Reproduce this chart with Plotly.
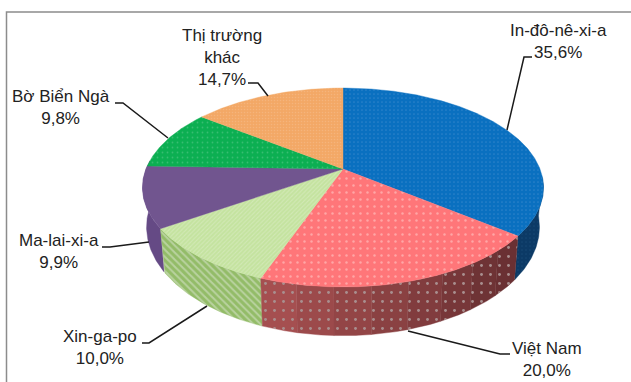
import numpy as np
import plotly.graph_objects as go

labels = ["In-đô-nê-xi-a", "Việt Nam", "Xin-ga-po", "Ma-lai-xi-a", "Bờ Biển Ngà", "Thị trường<br>khác"]
values = [35.6, 20.0, 10.0, 9.9, 9.8, 14.7]
value_text = ["35,6%", "20,0%", "10,0%", "9,9%", "9,8%", "14,7%"]

W, H = 631, 382
CX, APEX_Y, R = 343.0, 169.0, 197.0
A, C = 64.6, -0.186          # perspective of the tilted disc
S_X, S_Y, OFF_Y = 0.98, 1.093, 22.0   # top rim -> bottom rim

def top_rim(theta_deg):
    th = np.radians(theta_deg)
    t = -np.cos(th)
    den = 1 + C * t
    return CX + R * np.sin(th) / den, (A * t + APEX_Y) / den

def low_rim(theta_deg):
    x, y = top_rim(theta_deg)
    return CX + (x - CX) * S_X, y * S_Y + OFF_Y

def arc(a, b):
    return np.linspace(a, b, max(3, int(abs(b - a) * 2)))

fig = go.Figure()

def poly(x, y, bg, fg=None, shape="", size=6, solidity=0.3):
    kw = {}
    if shape:
        kw["fillpattern"] = dict(shape=shape, bgcolor=bg, fgcolor=fg, size=size,
                                 solidity=solidity, fillmode="replace")
    fig.add_trace(go.Scatter(x=list(x) + [x[0]], y=list(y) + [y[0]], mode="lines", fill="toself",
                             fillcolor=bg, line=dict(width=0.4, color=bg), hoverinfo="skip",
                             showlegend=False, **kw))

def side(a, b, bg, fg=None, shape="", size=6, solidity=0.3):
    th = arc(a, b)
    x1, y1 = top_rim(th)
    x2, y2 = low_rim(th[::-1])
    poly(np.r_[x1, x2], np.r_[y1, y2], bg, fg, shape, size, solidity)

cum = np.r_[0, np.cumsum(values)] / sum(values) * 360

# sides: back to front
side(95, cum[1], "#0c3a66", "#154672", ".", 4, 0.15)
side(cum[3], 275, "#654a85")
side(cum[2], cum[3], "#93bc68", "#b9d29f", "\\", 5, 0.4)
# the red side darkens from left to right
red_edges = np.linspace(cum[2], cum[1], 9)
red_bg = ["#a54f50", "#9c4a4b", "#934546", "#8a4142", "#813c3e", "#773739", "#6e3335", "#6a3033"]
for i in range(8):
    side(red_edges[i + 1], red_edges[i], red_bg[i], "#a98f8f", ".", 9, 0.08)

# top faces
styles = [
    ("#0a70c0", "#2c82ca", ".", 4, 0.15),
    ("#ff7679", "#ffa6a6", ".", 7, 0.1),
    ("#c4e39f", "#d2e9b6", "/", 3, 0.35),
    ("#71558f", None, "", 0, 0),
    ("#0caf52", "#38bd72", ".", 5, 0.1),
    ("#f3a866", "#f5b47c", ".", 3, 0.2),
]
for i, (bg, fg, sh, sz, so) in enumerate(styles):
    x, y = top_rim(arc(cum[i], cum[i + 1]))
    poly(np.r_[CX, x], np.r_[APEX_Y, y], bg, fg, sh, sz, so)

# leader lines
leaders = [
    ([532, 524, 507], [57, 57, 130]),
    ([510, 500, 408], [354, 354, 331]),
    ([142, 149, 207], [343, 343, 306]),
    ([102, 110, 149], [247, 247, 242]),
    ([115, 123, 168], [103, 103, 138]),
    ([248, 258, 268], [83, 83, 96]),
]
for lx, ly in leaders:
    fig.add_trace(go.Scatter(x=lx, y=ly, mode="lines", line=dict(color="#1a1a1a", width=1.5),
                             hoverinfo="skip", showlegend=False))

# chart frame: only left and top edges are visible
fig.add_trace(go.Scatter(x=[6.5, 6.5, 631], y=[382, 12, 12], mode="lines",
                         line=dict(color="#8c8c8c", width=1.5), hoverinfo="skip", showlegend=False))

label_pos = [(558, 41.5), (547, 359.5), (100, 347), (59, 251.5), (61, 107.5), (222, 57)]
for name, val, (px, py) in zip(labels, value_text, label_pos):
    fig.add_annotation(x=px, y=py, text=f"{name}<br>{val}", showarrow=False, xanchor="center",
                       yanchor="middle", align="center",
                       font=dict(family="Liberation Sans", size=17, color="#222222"))

fig.update_layout(width=W, height=H, margin=dict(l=0, r=0, t=0, b=0), showlegend=False,
                  paper_bgcolor="white", plot_bgcolor="white",
                  xaxis=dict(range=[0, W], visible=False, fixedrange=True),
                  yaxis=dict(range=[H, 0], visible=False, fixedrange=True))
fig.write_html("out.html", post_script="document.body.style.margin='0';document.body.style.overflow='hidden';",
               config=dict(displayModeBar=False))
